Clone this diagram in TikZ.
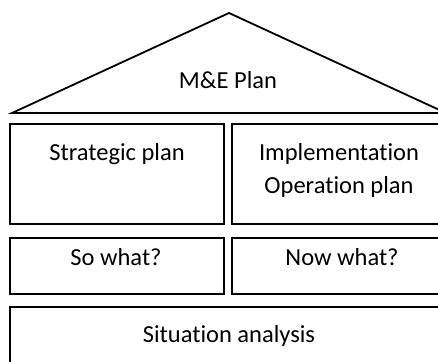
\documentclass[tikz,border=0pt]{standalone}
\usepackage{fontspec}
\setmainfont{Carlito}[Ligatures=NoCommon]
\begin{document}
\begin{tikzpicture}[x=1pt,y=-1pt,
  box/.style={draw=black,line width=1.8pt,fill=white},
  lbl/.style={anchor=base,inner sep=0pt,font=\fontsize{24.5}{29}\selectfont}]
\useasboundingbox (0,0) rectangle (438,361);
\clip (0,0) rectangle (438,361);
\fill[white] (0,0) rectangle (438,361);
% roof
\draw[line width=1.8pt,line join=miter] (12,113) -- (229,13) -- (446,113) -- cycle;
\node[lbl] (me) at (228,88) {M\&E Plan};
% boxes
\draw[box] (10,124) rectangle (224,224);
\draw[box] (232,124) rectangle (452,224);
\draw[box] (10,238) rectangle (224,294);
\draw[box] (232,238) rectangle (452,294);
\draw[box] (10,307) rectangle (448,380);
\node[lbl] (sp) at (117,160) {Strategic plan};
\node[lbl] (imp) at (339,160) {Implementation};
\node[lbl] (op) at (339,193) {Operation plan};
\node[lbl] (sw) at (116,265) {So what?};
\node[lbl] (nw) at (342,265) {Now what?};
\node[lbl] (sa) at (229,342) {Situation analysis};
\end{tikzpicture}
\end{document}
